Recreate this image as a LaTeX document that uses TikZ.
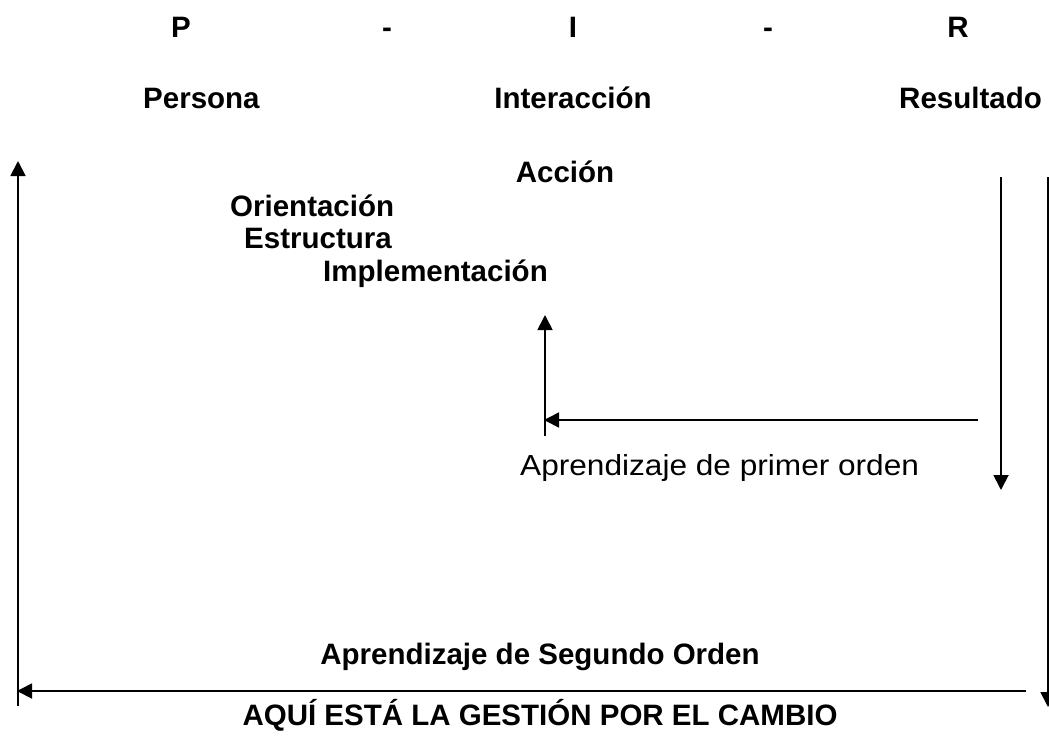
\documentclass[tikz,border=0pt]{standalone}
\usepackage{fontspec}
\setmainfont{Liberation Sans}
\newfontfamily\stretchsans[FakeStretch=1.09]{Liberation Sans}
\usetikzlibrary{arrows.meta}
\tikzset{
  bold/.style={inner sep=0pt, font=\fontsize{29.5}{34}\selectfont\bfseries},
  plain/.style={inner sep=0pt, font=\fontsize{29}{34}\selectfont\stretchsans},
  arr/.style={line width=1.8pt, -{Triangle[length=15pt,width=15pt]}}
}
\begin{document}
\begin{tikzpicture}[x=1pt,y=-1pt]
\useasboundingbox (0,0) rectangle (1049,737);
% top row
\node[bold, anchor=base] (P)  at (181,37) {P};
\node[bold, anchor=base] (d1) at (387,37) {-};
\node[bold, anchor=base] (I)  at (573,37) {I};
\node[bold, anchor=base] (d2) at (768,37) {-};
\node[bold, anchor=base] (R)  at (958,37) {R};
% second row
\node[bold, anchor=base west] (persona) at (143,108) {Persona};
\node[bold, anchor=base] (inter) at (573,108) {Interacción};
\node[bold, anchor=base east] (result) at (1042,108) {Resultado};
% middle labels
\node[bold, anchor=base] (accion) at (565,182) {Acción};
\node[bold, anchor=base west] (orient) at (230,216) {Orientación};
\node[bold, anchor=base west] (estruc) at (244,248) {Estructura};
\node[bold, anchor=base west] (implem) at (323,281) {Implementación};
\node[plain, anchor=base west] (primer) at (520,475) {Aprendizaje de primer orden};
\node[bold, anchor=base] (segundo) at (540,664) {Aprendizaje de Segundo Orden};
\node[bold, anchor=base] (aqui) at (540,725) {AQUÍ ESTÁ LA GESTIÓN POR EL CAMBIO};
% coordinates
\coordinate (la) at (18,706);
\coordinate (lb) at (18,161);
\coordinate (ba) at (1026,691);
\coordinate (bb) at (17,691);
\coordinate (ra) at (1048,177);
\coordinate (rb) at (1048,707);
\coordinate (da) at (1001,177);
\coordinate (db) at (1001,490);
\coordinate (ha) at (978,420);
\coordinate (hb) at (544,420);
\coordinate (ua) at (545,436);
\coordinate (ub) at (545,315);
% connectors
\draw[arr] (la) -- (lb);
\draw[arr] (ba) -- (bb);
\draw[arr] (ra) -- (rb);
\draw[arr] (da) -- (db);
\draw[arr] (ha) -- (hb);
\draw[arr] (ua) -- (ub);
\end{tikzpicture}
\end{document}
